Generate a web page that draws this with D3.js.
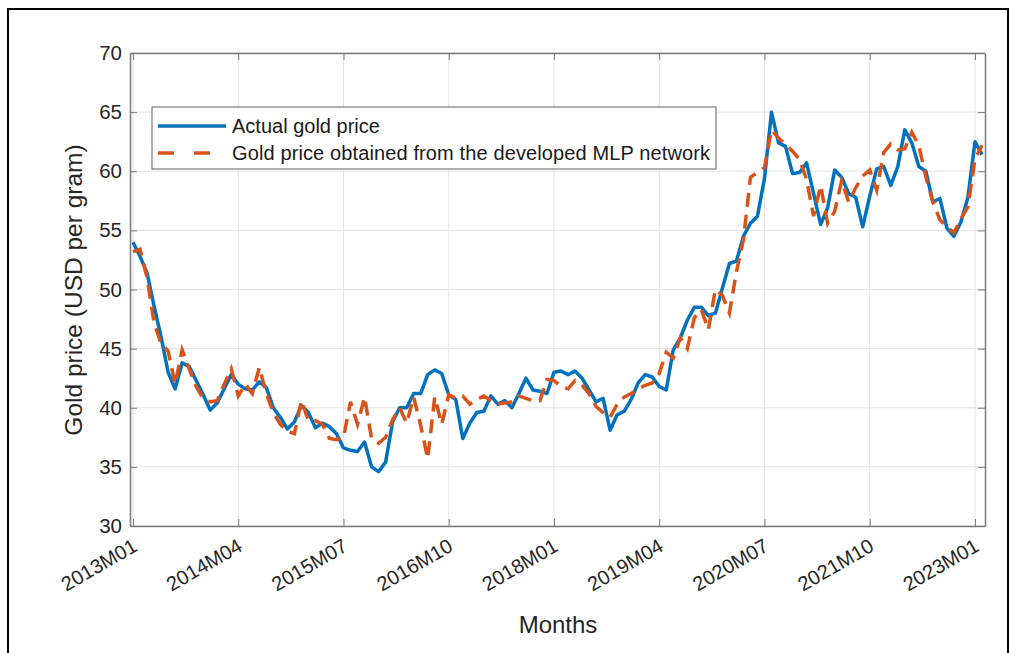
<!DOCTYPE html>
<html lang="en">
    <head>
        <meta charset="UTF-8">
        <title>Gold price vs MLP</title>
        <style>
            body { margin: 0; background: #fff; }
            svg { display: block; font-family: "Liberation Sans", Arial, Helvetica, sans-serif; }
            .axis path, .axis line { stroke: #7a7a7a; }
            .axis text { fill: #262626; font-size: 20.5px; }
            .grid line { stroke: #e3e3e3; stroke-width: 1; }
        </style>
    </head>
    <body>
        <script src="https://d3js.org/d3.v7.min.js"></script>
        <script>
            const svgWidth = 1020;
            const svgHeight = 653;

            // x tick positions (month index from 2013M01) and their labels
            const tickIndex = [0, 15, 30, 45, 60, 75, 90, 105, 120];
            const tickLabels = ["2013M01", "2014M04", "2015M07", "2016M10", "2018M01", "2019M04", "2020M07", "2021M10", "2023M01"];
            const yTicks = [30, 35, 40, 45, 50, 55, 60, 65, 70];

            // actual gold price, USD per gram, 2013M01 .. 2023M02
            const actual = [
                54.0, 52.8, 51.4, 48.6, 46.0, 43.0, 41.6, 43.8, 43.5, 42.3, 41.1, 39.8,
                40.4, 41.6, 42.8, 42.0, 41.6, 41.5, 42.2, 41.7, 40.0, 39.2, 38.2, 38.8,
                40.2, 39.6, 38.3, 38.7, 38.4, 37.8, 36.6, 36.4, 36.3, 37.1, 35.0, 34.6,
                35.4, 38.8, 40.0, 40.0, 41.2, 41.2, 42.8, 43.2, 42.9, 41.1, 40.7, 37.4,
                38.7, 39.6, 39.7, 41.0, 40.3, 40.6, 40.0, 41.2, 42.5, 41.5, 41.4, 41.2,
                43.0, 43.1, 42.8, 43.1, 42.5, 41.5, 40.5, 40.8, 38.1, 39.4, 39.7, 40.7,
                42.1, 42.8, 42.6, 41.8, 41.5, 44.9, 45.9, 47.4, 48.5, 48.5, 47.8, 48.0,
                50.1, 52.2, 52.4, 54.5, 55.6, 56.2, 59.4, 65.0, 62.4, 62.1, 59.8, 59.9,
                60.7, 58.1, 55.5, 56.9, 60.1, 59.5, 58.1, 57.8, 55.3, 57.9, 60.2, 60.4,
                58.8, 60.4, 63.5, 62.4, 60.4, 60.0, 57.4, 57.7, 55.2, 54.5, 55.7, 57.8,
                62.5, 61.4
            ];

            // price obtained from the developed MLP network
            const predicted = [
                53.2, 53.4, 51.0, 47.2, 45.4, 44.8, 42.0, 44.9, 43.3, 41.8, 40.8, 40.5,
                40.6, 42.0, 43.3, 41.0, 42.0, 41.2, 43.4, 41.2, 39.6, 38.6, 38.0, 37.8,
                40.6, 38.9, 38.9, 38.6, 37.4, 37.3, 37.5, 40.5, 38.6, 40.9, 37.4, 37.0,
                37.5, 39.0, 40.0, 38.7, 40.9, 38.5, 35.7, 40.9, 38.6, 41.1, 40.8, 41.0,
                40.3, 40.7, 41.0, 40.6, 40.3, 40.4, 40.5, 41.0, 40.8, 40.6, 40.6, 42.4,
                42.3, 41.8, 41.6, 42.3, 41.9, 41.2, 40.1, 39.6, 39.2, 40.3, 40.9, 41.2,
                41.6, 41.9, 42.1, 42.9, 44.7, 44.2, 45.9, 45.0, 47.6, 48.3, 46.6, 50.0,
                49.5, 48.0, 51.5, 54.2, 59.5, 59.9, 60.3, 63.5, 62.8, 62.3, 61.7, 61.0,
                59.3, 56.2, 58.8, 55.6, 56.6, 59.2, 57.4, 58.6, 59.6, 60.1, 58.4, 61.6,
                62.3, 61.8, 61.9, 63.3, 62.2, 59.5, 57.4, 55.9, 55.3, 54.8, 56.0, 57.0,
                61.0, 62.2
            ];

            const plotLeft = 130, plotRight = 985, plotTop = 53, plotBottom = 526;

            const svg = d3.select("body").append("svg")
                .attr("width", svgWidth)
                .attr("height", svgHeight);

            // outer figure frame
            svg.append("rect")
                .attr("x", 8).attr("y", 9)
                .attr("width", 1000).attr("height", 660)
                .attr("fill", "none")
                .attr("stroke", "#000")
                .attr("stroke-width", 2);

            const x = d3.scaleLinear()
                .domain([-0.43, 121.43])
                .range([plotLeft, plotRight]);

            const y = d3.scaleLinear()
                .domain([30, 70])
                .range([plotBottom, plotTop]);

            // grid
            const grid = svg.append("g").attr("class", "grid");
            grid.selectAll(".gx").data(tickIndex).enter().append("line")
                .attr("x1", d => x(d)).attr("x2", d => x(d))
                .attr("y1", plotTop).attr("y2", plotBottom);
            grid.selectAll(".gy").data(yTicks).enter().append("line")
                .attr("x1", plotLeft).attr("x2", plotRight)
                .attr("y1", d => y(d)).attr("y2", d => y(d));

            // axes, ticks pointing inward like matlab
            const xAxis = d3.axisBottom(x).tickValues(tickIndex).tickSize(-7).tickSizeOuter(0)
                .tickFormat((d, i) => tickLabels[i]);
            const gx = svg.append("g").attr("class", "axis")
                .attr("transform", `translate(0,${plotBottom})`)
                .call(xAxis);
            gx.selectAll("text")
                .attr("text-anchor", "end")
                .attr("dy", 0)
                .attr("transform", "translate(5,24) rotate(-30)")
                .attr("y", 0).attr("x", 0)
                .style("font-size", "20px");

            svg.append("g").attr("class", "axis")
                .attr("transform", `translate(0,${plotTop})`)
                .call(d3.axisTop(x).tickValues(tickIndex).tickSize(-7).tickSizeOuter(0).tickFormat(""));

            svg.append("g").attr("class", "axis")
                .attr("transform", `translate(${plotLeft},0)`)
                .call(d3.axisLeft(y).tickValues(yTicks).tickSize(-7).tickSizeOuter(0).tickPadding(8));

            svg.append("g").attr("class", "axis")
                .attr("transform", `translate(${plotRight},0)`)
                .call(d3.axisRight(y).tickValues(yTicks).tickSize(-7).tickSizeOuter(0).tickFormat(""));

            svg.selectAll(".axis path").attr("stroke-width", 1.5);

            // lines
            const line = d3.line()
                .x((d, i) => x(i))
                .y(d => y(d));

            svg.append("path")
                .datum(actual)
                .attr("fill", "none")
                .attr("stroke", "#0072BD")
                .attr("stroke-width", 3.5)
                .attr("stroke-linejoin", "round")
                .attr("d", line);

            svg.append("path")
                .datum(predicted)
                .attr("fill", "none")
                .attr("stroke", "#D95319")
                .attr("stroke-width", 3.5)
                .attr("stroke-dasharray", "14,8")
                .attr("d", line);

            // legend
            const legend = svg.append("g");
            legend.append("rect")
                .attr("x", 152).attr("y", 107)
                .attr("width", 564).attr("height", 62)
                .attr("fill", "#fff")
                .attr("stroke", "#7a7a7a")
                .attr("stroke-width", 1.2);
            legend.append("line")
                .attr("x1", 158).attr("x2", 226).attr("y1", 126).attr("y2", 126)
                .attr("stroke", "#0072BD").attr("stroke-width", 3.5);
            legend.append("line")
                .attr("x1", 158).attr("x2", 226).attr("y1", 153).attr("y2", 153)
                .attr("stroke", "#D95319").attr("stroke-width", 3.5)
                .attr("stroke-dasharray", "16,20");
            legend.append("text")
                .attr("x", 232).attr("y", 133)
                .attr("fill", "#1a1a1a").style("font-size", "20px")
                .text("Actual gold price");
            legend.append("text")
                .attr("x", 232).attr("y", 160)
                .attr("fill", "#1a1a1a").style("font-size", "20px")
                .attr("textLength", 478)
                .text("Gold price obtained from the developed MLP network");

            // axis titles
            svg.append("text")
                .attr("x", 558).attr("y", 633)
                .attr("text-anchor", "middle")
                .attr("fill", "#262626")
                .style("font-size", "24px")
                .text("Months");

            svg.append("text")
                .attr("transform", "translate(82,290) rotate(-90)")
                .attr("text-anchor", "middle")
                .attr("fill", "#262626")
                .style("font-size", "24.5px")
                .text("Gold price (USD per gram)");
        </script>
    </body>
</html>
